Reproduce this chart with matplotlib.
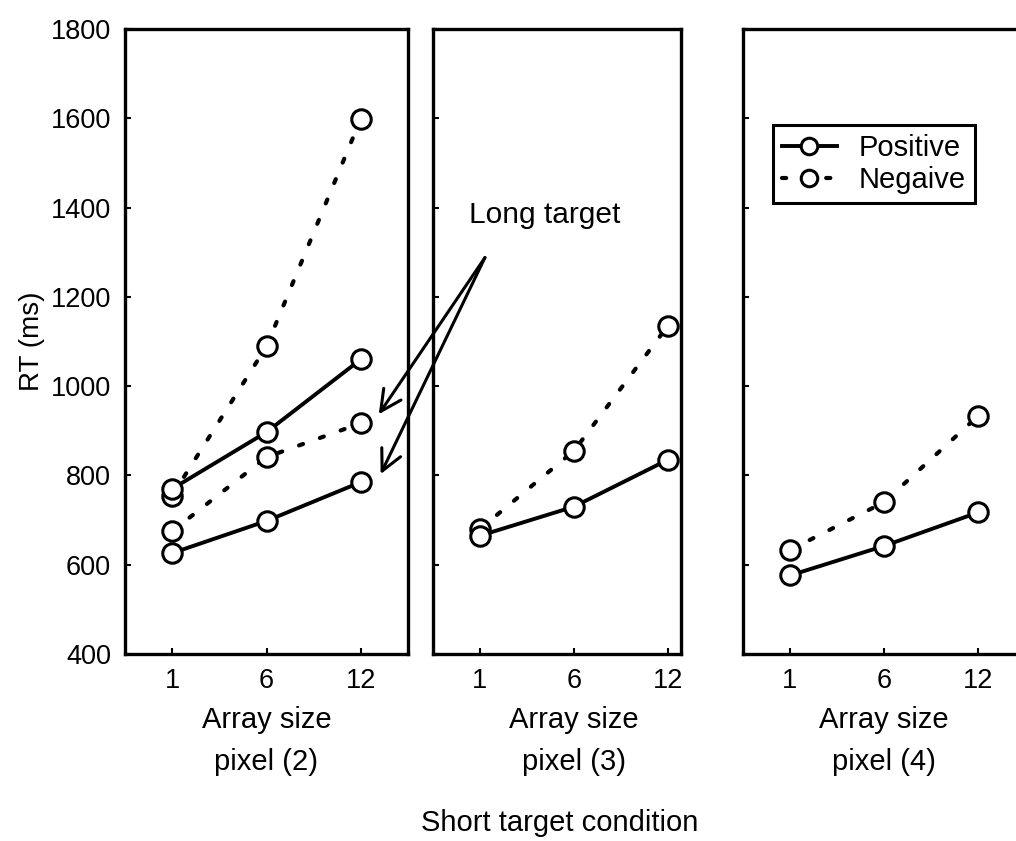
import matplotlib
matplotlib.use("Agg")
import matplotlib.pyplot as plt
import matplotlib.transforms as mtransforms
from matplotlib.lines import Line2D

plt.rcParams['font.family'] = ['Liberation Sans', 'DejaVu Sans']

# Data
array_sizes = ["1", "6", "12"]
panel_labels = ["pixel (2)", "pixel (3)", "pixel (4)"]

# panel 1 has both short (upper) and long (lower) target lines
p1_pos_short = [770, 897, 1060]
p1_neg_short = [755, 1089, 1599]
p1_pos_long = [626, 698, 785]
p1_neg_long = [675, 841, 917]

p2_pos = [665, 730, 835]
p2_neg = [680, 855, 1135]

p3_pos = [576, 642, 717]
p3_neg = [633, 740, 933]

W, H = 1016, 841
fig = plt.figure(figsize=(W / 100, H / 100), dpi=100)

def fx(px):
    return px / W

def fy(py):
    return 1 - py / H

bottom = fy(654)
height = fy(29) - bottom
ax1 = fig.add_axes([fx(125), bottom, fx(408) - fx(125), height])
ax2 = fig.add_axes([fx(433), bottom, fx(681) - fx(433), height])
ax3 = fig.add_axes([fx(743), bottom, fx(282), height])
ax1.set_zorder(5)  # arrows from panel 2 must sit on top

x = [0, 1, 2]
solid = dict(color='black', lw=2.8, ls='-', marker='o', ms=14,
             mfc='white', mec='black', mew=2.2)
dotted = dict(solid, ls=(0, (1.0, 4.3)), lw=3.0, dash_capstyle='round')

ax1.plot(x, p1_neg_short, **dotted)
ax1.plot(x, p1_pos_short, **solid)
ax1.plot(x, p1_neg_long, **dotted)
ax1.plot(x, p1_pos_long, **solid)
ax2.plot(x, p2_neg, **dotted)
ax2.plot(x, p2_pos, **solid)
ax3.plot(x, p3_neg, **dotted)
ax3.plot(x, p3_pos, **solid)

xlims = [(-0.5, 2.5), (-0.5, 2.14), (-0.5, 2.5)]
for ax, lab, xl in zip([ax1, ax2, ax3], panel_labels, xlims):
    ax.set_xlim(*xl)
    ax.set_ylim(400, 1800)
    ax.set_xticks(x)
    ax.set_xticklabels(array_sizes)
    ax.set_yticks(range(400, 1801, 200))
    ax.tick_params(direction='in', length=4, width=1.5, labelsize=19.5, pad=10)
    ax.tick_params(axis='x', pad=10)
    for s in ax.spines.values():
        s.set_linewidth(2.4)
    tr = mtransforms.blended_transform_factory(ax.transData, fig.transFigure)
    ax.text(1, fy(720), "Array size", transform=tr, ha='center', va='center', fontsize=21)
    ax.text(1, fy(762), lab, transform=tr, ha='center', va='center', fontsize=21)

ax2.set_yticklabels([])
ax3.set_yticklabels([])
ax1.set_ylabel("RT (ms)", fontsize=20, va='center')
ax1.yaxis.set_label_coords((32 - 125) / 283, 0.5)

fig.text(fx(560), fy(823), "Short target condition", ha='center', va='center', fontsize=21)

# Long target annotation with arrows crossing into panel 1
ax2.text(0.69, 1384, "Long target", fontsize=21.5, ha='center', va='center')
for target in [(2.19, 937), (2.21, 803)]:
    ax1.annotate("", xy=target, xycoords=ax1.transData,
                 xytext=(0.053, 1288), textcoords=ax2.transData,
                 arrowprops=dict(arrowstyle='->,head_length=0.5,head_width=0.25',
                                 lw=2.2, color='black',
                                 mutation_scale=30, shrinkA=0, shrinkB=0),
                 annotation_clip=False)

handles = [Line2D([], [], **solid), Line2D([], [], **dotted)]
leg = fig.legend(handles, ["Positive", "Negaive"], loc='upper left',
                 bbox_to_anchor=(fx(773), fy(125)), bbox_transform=fig.transFigure,
                 fontsize=21, fancybox=False, framealpha=1, edgecolor='black',
                 handlelength=1.9, borderaxespad=0, borderpad=0.3,
                 labelspacing=0.15, handletextpad=0.75, markerscale=0.85)
leg.get_frame().set_linewidth(2.2)

fig.savefig("out.png", dpi=100)
